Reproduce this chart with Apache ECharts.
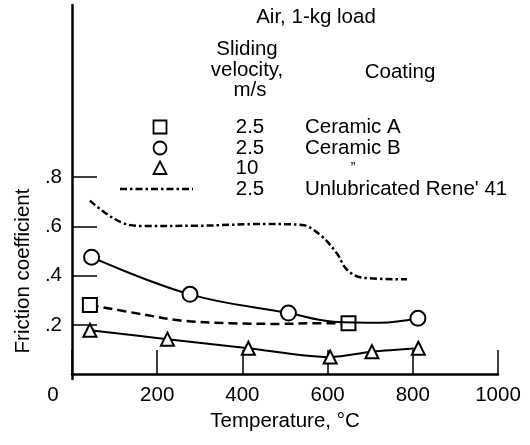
<!DOCTYPE html>
<html>
<head>
<meta charset="utf-8">
<script src="https://cdn.jsdelivr.net/npm/echarts@6/dist/echarts.min.js"></script>
<style>
html,body{margin:0;padding:0;background:#fff;}
#c{width:530px;height:445px;}
</style>
</head>
<body>
<div id="c"></div>
<script>
// ---- data ----
const xTicks = [0, 200, 400, 600, 800, 1000];
const yTickValues = [0.2, 0.4, 0.6, 0.8];

// Ceramic A (squares, 2.5 m/s) — marker flag: 1 = marker drawn
const ceramicA = [[42, 0.281, 1], [175, 0.240, 0], [254, 0.218, 0], [371, 0.207, 0], [489, 0.204, 0], [567, 0.207, 0], [649, 0.207, 1]];
// Ceramic B (circles, 2.5 m/s)
const ceramicB = [[46, 0.475, 1], [277, 0.324, 1], [508, 0.248, 1], [614, 0.213, 0], [723, 0.209, 0], [812, 0.227, 1]];
// Ceramic (triangles, 10 m/s)
const ceramic10 = [[42, 0.178, 1], [224, 0.142, 1], [414, 0.105, 1], [606, 0.069, 1], [704, 0.091, 1], [813, 0.105, 1]];
// Unlubricated Rene' 41 (no markers)
const unlub = [[42, 0.705], [78, 0.655], [121, 0.613], [160, 0.602], [300, 0.603], [450, 0.610], [540, 0.606], [583, 0.565], [622, 0.490], [645, 0.425], [680, 0.392], [786, 0.385]];

const FONT = '"Liberation Sans", Arial, Helvetica, sans-serif';
const FS = 20.5;

function toItems(arr) {
  return arr.map(p => p[2] ? {value: [p[0], p[1]]} : {value: [p[0], p[1]], symbol: 'none'});
}

const markerStyle = {color: '#fff', borderColor: '#000', borderWidth: 2};

function txt(text, x, y, align, size) {
  return {
    type: 'text', x: x, y: y, silent: true,
    style: {text: text, fontFamily: FONT, fontSize: size || FS, fill: '#000',
            align: align || 'center', verticalAlign: 'middle'}
  };
}

const chart = echarts.init(document.getElementById('c'), null, {renderer: 'canvas'});
chart.setOption({
  animation: false,
  backgroundColor: '#fff',
  grid: {left: 72, right: 32, top: 5, bottom: 66},
  xAxis: {
    type: 'value', min: 0, max: 1000, interval: 200,
    name: 'Temperature, \u00B0C', nameLocation: 'middle', nameGap: 31,
    nameTextStyle: {fontFamily: FONT, fontSize: FS, color: '#000'},
    axisLine: {lineStyle: {color: '#000', width: 2.5}},
    axisTick: {inside: true, length: 24, lineStyle: {color: '#000', width: 1.5}},
    splitLine: {show: false},
    axisLabel: {
      margin: 6, color: '#000', fontFamily: FONT, fontSize: FS,
      formatter: v => v === 0 ? '{z|0}' : String(v),
      rich: {z: {fontFamily: FONT, fontSize: FS, color: '#000', padding: [0, 38, 0, 0]}}
    }
  },
  yAxis: {
    type: 'value', min: -0.02, max: 1.5,
    name: 'Friction coefficient', nameLocation: 'middle', nameGap: 38, nameRotate: 90,
    nameTextStyle: {fontFamily: FONT, fontSize: FS, color: '#000', padding: [0, 158, 0, 0]},
    axisLine: {lineStyle: {color: '#000', width: 2.5}},
    axisTick: {inside: true, length: 25, customValues: yTickValues, lineStyle: {color: '#000', width: 1.5}},
    splitLine: {show: false},
    axisLabel: {
      margin: 10, color: '#000', fontFamily: FONT, fontSize: FS,
      customValues: yTickValues,
      formatter: v => v.toFixed(1).replace(/^0\./, '.')
    }
  },
  series: [
    {
      name: 'Unlubricated Rene\' 41', type: 'line', data: unlub, symbol: 'none', smooth: 0.35,
      lineStyle: {color: '#000', width: 2.5, type: [7, 3, 2.5, 3]}, z: 2
    },
    {
      name: 'Ceramic A', type: 'line', data: toItems(ceramicA), symbol: 'rect', symbolSize: 14, smooth: 0.4,
      showAllSymbol: true,
      lineStyle: {color: '#000', width: 2.5, type: [9, 5]}, itemStyle: markerStyle, z: 3
    },
    {
      name: 'Ceramic B', type: 'line', data: toItems(ceramicB), symbol: 'circle', symbolSize: 15, smooth: 0.4,
      showAllSymbol: true,
      lineStyle: {color: '#000', width: 2}, itemStyle: markerStyle, z: 4
    },
    {
      name: 'Ceramic 10 m/s', type: 'line', data: toItems(ceramic10), symbol: 'triangle', symbolSize: [13, 13], smooth: 0.3,
      showAllSymbol: true,
      lineStyle: {color: '#000', width: 2}, itemStyle: markerStyle, z: 5
    }
  ],
  graphic: [
    txt('Air, 1-kg load', 316, 17),
    txt('Sliding', 247, 49),
    txt('velocity,', 247, 70),
    txt('m/s', 250, 90),
    txt('Coating', 400, 72),
    {type: 'rect', x: 160, y: 127, shape: {x: -6.5, y: -6.5, width: 13, height: 13},
     style: {fill: '#fff', stroke: '#000', lineWidth: 1.8}},
    {type: 'circle', x: 160, y: 148, shape: {cx: 0, cy: 0, r: 6.5},
     style: {fill: '#fff', stroke: '#000', lineWidth: 1.8}},
    {type: 'polygon', x: 160, y: 168, shape: {points: [[0, -6.5], [6.5, 6], [-6.5, 6]]},
     style: {fill: '#fff', stroke: '#000', lineWidth: 1.8}},
    {type: 'polyline', shape: {points: [[120, 189], [193, 189]]},
     style: {stroke: '#000', lineWidth: 2.5, lineDash: [7, 3, 2.5, 3], fill: null}},
    txt('2.5', 250, 127),
    txt('2.5', 250, 148),
    txt('10', 247, 168),
    txt('2.5', 250, 189),
    txt('Ceramic A', 305, 127, 'left'),
    txt('Ceramic B', 305, 148, 'left'),
    txt('\u201D', 353, 168, 'center', 14),
    txt('Unlubricated Rene\' 41', 305, 189, 'left')
  ]
});
</script>
</body>
</html>
